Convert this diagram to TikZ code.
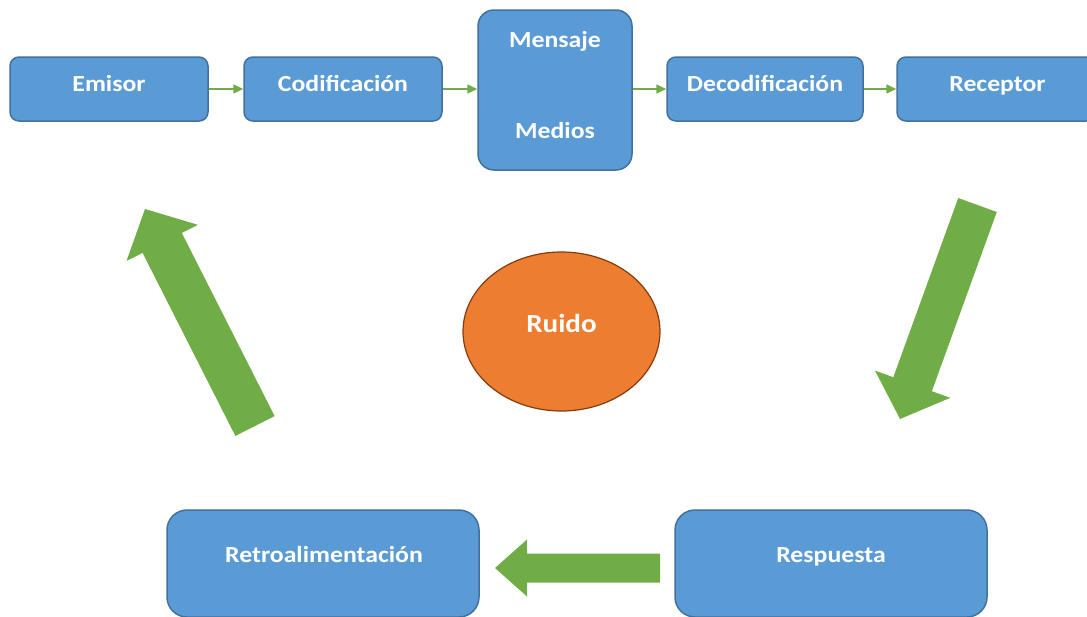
\documentclass[tikz,border=0pt]{standalone}
\usepackage{fontspec}
\setmainfont{Carlito}
\newfontfamily\lblfamily{Carlito}[FakeStretch=1.12]
\usetikzlibrary{calc,arrows.meta,shapes.geometric}
\definecolor{boxfill}{HTML}{5B9BD5}
\definecolor{boxline}{HTML}{41719C}
\definecolor{arrowgreen}{HTML}{70AD47}
\definecolor{ruidofill}{HTML}{ED7D31}
\definecolor{ruidoline}{HTML}{843C0C}
% block arrow: #1 tail, #2 tip, #3 half shaft width, #4 half head width, #5 head length
\newcommand\blkarrow[5]{%
  \coordinate (bah) at ($(#2)!#5!(#1)$);
  \fill[arrowgreen] ($(#1)!#3!90:(#2)$) -- ($(bah)!#3!90:(#2)$) -- ($(bah)!#4!90:(#2)$) -- (#2)
    -- ($(bah)!#4!-90:(#2)$) -- ($(bah)!#3!-90:(#2)$) -- ($(#1)!#3!-90:(#2)$) -- cycle;}
\begin{document}
\begin{tikzpicture}[x=1pt,y=-1pt,
  box/.style={draw=boxline, line width=1.5pt, fill=boxfill, rounded corners=9pt, inner sep=0pt},
  lbl/.style={text=white, font=\lblfamily\fontsize{23}{27}\selectfont\bfseries, anchor=base, inner sep=0pt},
  conn/.style={draw=arrowgreen, line width=1.6pt, -{Triangle[length=10pt,width=9pt]}}]
\useasboundingbox (0,0) rectangle (1087,616);
\clip (0,0) rectangle (1087,616);
% top row boxes
\node[box, minimum width=198pt, minimum height=64pt] (emisor) at (109,89) {};
\node[box, minimum width=198pt, minimum height=64pt] (codif) at (343,89) {};
\node[box, minimum width=154pt, minimum height=160pt, rounded corners=16pt] (mensaje) at (555,90) {};
\node[box, minimum width=196pt, minimum height=64pt] (decod) at (765,89) {};
\node[box, minimum width=198pt, minimum height=64pt] (receptor) at (996,89) {};
% bottom boxes
\node[box, minimum width=312pt, minimum height=107pt, rounded corners=20pt] (retro) at (323,563.5) {};
\node[box, minimum width=312pt, minimum height=107pt, rounded corners=20pt] (resp) at (831,563.5) {};
% noise
\node[ellipse, draw=ruidoline, line width=1.2pt, fill=ruidofill, minimum width=197pt, minimum height=159pt, inner sep=0pt] (ruido) at (561.5,331.5) {};
% labels
\node[lbl] (t-emisor) at ($(emisor.center)+(0,2)$) {Emisor};
\node[lbl] (t-codif) at ($(codif.center)+(0,2)$) {Codificación};
\node[lbl] (t-mensaje) at ($(mensaje.center)+(0,-43)$) {Mensaje};
\node[lbl] (t-medios) at ($(mensaje.center)+(0,48)$) {Medios};
\node[lbl] (t-decod) at ($(decod.center)+(0,2)$) {Decodificación};
\node[lbl] (t-receptor) at ($(receptor.center)+(1.5,2)$) {Receptor};
\node[lbl, font=\lblfamily\fontsize{26}{30}\selectfont\bfseries] (t-ruido) at ($(ruido.center)+(0,0.5)$) {Ruido};
\node[lbl] (t-retro) at ($(retro.center)+(1,-1.5)$) {Retroalimentación};
\node[lbl] (t-resp) at ($(resp.center)+(0,-1.5)$) {Respuesta};
% thin connectors
\draw[conn] (emisor.east) -- (codif.west);
\draw[conn] (codif.east) -- (codif.east -| mensaje.west);
\draw[conn] (decod.west -| mensaje.east) -- (decod.west);
\draw[conn] (decod.east) -- (receptor.west);
% block arrows
\coordinate (ra-t) at (977.5,205);
\coordinate (ra-p) at (900,419);
\blkarrow{ra-t}{ra-p}{20.5pt}{40pt}{37pt}
\coordinate (la-t) at (255,426);
\coordinate (la-p) at (145,209);
\blkarrow{la-t}{la-p}{22pt}{40pt}{38pt}
\coordinate (ba-t) at (660,568);
\coordinate (ba-p) at (495,568);
\blkarrow{ba-t}{ba-p}{14.5pt}{28.5pt}{32pt}
\end{tikzpicture}
\end{document}
